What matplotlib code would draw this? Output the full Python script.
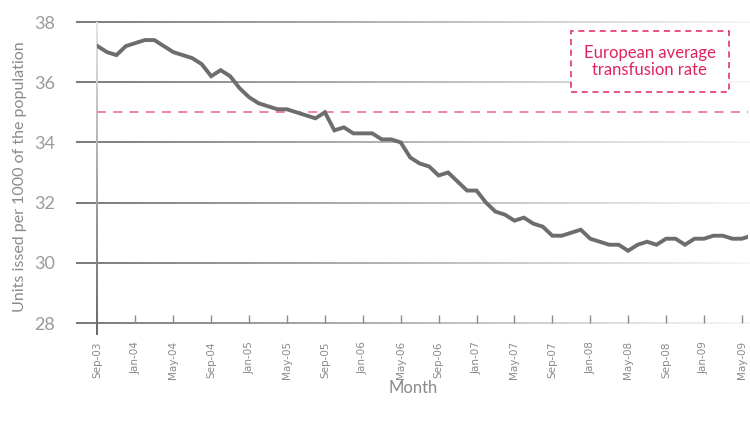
import numpy as np
import matplotlib as mpl
mpl.use("Agg")
import matplotlib.pyplot as plt
import matplotlib.transforms as mtransforms
from matplotlib.collections import LineCollection
from matplotlib.patches import Rectangle
import pandas as pd

# monthly units issued per 1000 population, Sep-03 .. Jun-09
units = [37.2, 37.0, 36.9, 37.2, 37.3, 37.4, 37.4, 37.2, 37.0, 36.9,
         36.8, 36.6, 36.2, 36.4, 36.2, 35.8, 35.5, 35.3, 35.2, 35.1,
         35.1, 35.0, 34.9, 34.8, 35.0, 34.4, 34.5, 34.3, 34.3, 34.3,
         34.1, 34.1, 34.0, 33.5, 33.3, 33.2, 32.9, 33.0, 32.7, 32.4,
         32.4, 32.0, 31.7, 31.6, 31.4, 31.5, 31.3, 31.2, 30.9, 30.9,
         31.0, 31.1, 30.8, 30.7, 30.6, 30.6, 30.4, 30.6, 30.7, 30.6,
         30.8, 30.8, 30.6, 30.8, 30.8, 30.9, 30.9, 30.8, 30.8, 30.9]
months = pd.date_range("2003-09-01", periods=len(units), freq="MS")
month_labels = [m.strftime("%b-%y") for m in months]
european_avg = 35.0
y_ticks = [28, 30, 32, 34, 36, 38]

label_grey = "#9a9a9a"
line_grey = "#6d6d6d"
pink = "#e0245e"
pink_light = "#ee7ba2"


def blend(c0, c1, v):
    return tuple(np.array(mpl.colors.to_rgb(c0)) * (1 - v) + np.array(mpl.colors.to_rgb(c1)) * v)


def gradient_hline(ax, y, c0, c1, x0=-0.033, x1=1.01, n=120):
    trans = mtransforms.blended_transform_factory(ax.transAxes, ax.transData)
    xs = np.linspace(x0, x1, n + 1)
    segs = [[(xs[i], y), (xs[i + 1], y)] for i in range(n)]
    cols = [blend(c0, c1, v) for v in np.linspace(0, 1, n)]
    ax.add_collection(LineCollection(segs, colors=cols, linewidths=1.3, transform=trans,
                                     clip_on=False, zorder=1))


fig = plt.figure(figsize=(7.5, 4.21), dpi=100)
ax = fig.add_axes((97 / 750, 1 - 323 / 421, 651 / 750, 301 / 421))
x = np.arange(len(units))

for yt in y_ticks:
    gradient_hline(ax, yt, "#6e6e6e", "#f6f6f6")

# vertical axis line, light at the top and dark at the bottom
trans = mtransforms.blended_transform_factory(ax.transData, ax.transAxes)
ys = np.linspace(-0.04, 1.0, 81)
segs = [[(0, ys[i]), (0, ys[i + 1])] for i in range(80)]
cols = [blend("#666666", "#e4e4e4", v) for v in np.linspace(0, 1, 80)]
ax.add_collection(LineCollection(segs, colors=cols, linewidths=1.4, transform=trans,
                                 clip_on=False, zorder=2))

ax.axhline(european_avg, color=pink_light, lw=1.3, dashes=(5, 4), zorder=2)
ax.plot(x, units, color=line_grey, lw=2.8, solid_joinstyle="miter", zorder=3)

ax.set_xlim(-0.05, 68.65)
ax.set_ylim(28, 38)
for s in ax.spines.values():
    s.set_visible(False)

ax.set_yticks(y_ticks)
ax.tick_params(axis="y", length=0, pad=30, labelsize=13, labelcolor=label_grey)
for lab in ax.get_yticklabels():
    lab.set_fontfamily("Lato")

ax.set_xticks(x[::4])
ax.set_xticklabels(month_labels[::4], rotation=90, fontsize=7.5, color="#8a8a8a",
                   fontfamily=["Liberation Sans Narrow", "DejaVu Sans"])
ax.tick_params(axis="x", direction="in", length=6, width=1, color="#8a8a8a", pad=13)
ax.xaxis.get_major_ticks()[0].tick1line.set_visible(False)

ax.set_ylabel("Units issed per 1000 of the population", fontsize=11.5, color="#8a8a8a",
              fontfamily="Lato")
ax.yaxis.set_label_coords(-0.107, 0.485)
ax.set_xlabel("Month", fontsize=12, color="#8a8a8a", fontfamily="Lato")
ax.xaxis.set_label_coords(0.485, -0.19)

# legend box
ax.add_patch(Rectangle((0.728, 0.767), 0.243, 0.203, transform=ax.transAxes, fc="white",
                       ec=pink, lw=1.1, ls=(0, (4, 3)), clip_on=False, zorder=4))
ax.text(0.849, 0.869, "European average\ntransfusion rate", transform=ax.transAxes,
        ha="center", va="center", fontsize=12, color=pink, fontfamily="Lato",
        linespacing=1.1, zorder=5)

fig.savefig("out.png", dpi=100)
